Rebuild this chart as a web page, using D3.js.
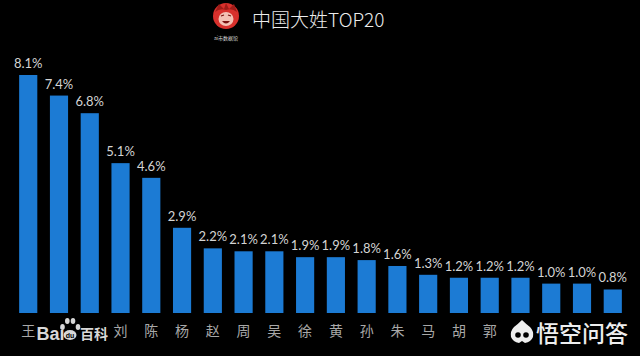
<!DOCTYPE html>
<html><head><meta charset="utf-8">
<script src="https://cdn.jsdelivr.net/npm/d3@7"></script>
<style>html,body{margin:0;padding:0;background:#000;}svg{display:block;}</style>
</head><body>
<script>
const surnames = ["王","李","张","刘","陈","杨","赵","周","吴","徐","黄","孙","朱","马","胡","郭","何","高","林","罗"];
const shares = [8.1,7.4,6.8,5.1,4.6,2.9,2.2,2.1,2.1,1.9,1.9,1.8,1.6,1.3,1.2,1.2,1.2,1.0,1.0,0.8];
const valueLabels = ["8.1%","7.4%","6.8%","5.1%","4.6%","2.9%","2.2%","2.1%","2.1%","1.9%","1.9%","1.8%","1.6%","1.3%","1.2%","1.2%","1.2%","1.0%","1.0%","0.8%"];
// surnames whose axis label is hidden under a watermark in the original picture
const hiddenLabels = ["李","张","何","高","林","罗"];
const titleText = "中国大姓TOP20";

const W = 640, H = 356;
const svg = d3.select("body").append("svg").attr("width", W).attr("height", H);
svg.append("rect").attr("width", W).attr("height", H).attr("fill", "#000");

const x = d3.scaleBand().domain(surnames).range([13, 628]).paddingInner(0.41).paddingOuter(0.2);
const y = d3.scaleLinear().domain([0, 8.1]).range([313, 75]);

const data = surnames.map((s, i) => ({s, v: shares[i], l: valueLabels[i]}));

svg.append("g").selectAll("rect").data(data).join("rect")
  .attr("x", d => x(d.s)).attr("width", x.bandwidth())
  .attr("y", d => y(d.v)).attr("height", d => y(0) - y(d.v))
  .attr("fill", "#1c7bd4");

svg.append("g").selectAll("text").data(data).join("text")
  .attr("x", d => x(d.s) + x.bandwidth() / 2)
  .attr("y", d => y(d.v) - 7)
  .attr("text-anchor", "middle")
  .attr("font-family", "Lato, 'Open Sans', sans-serif")
  .attr("font-size", 13)
  .attr("fill", "#d4d4d4")
  .text(d => d.l);

// category axis (no line)
const xAxis = d3.axisBottom(x).tickSize(0).tickPadding(0)
  .tickFormat(s => hiddenLabels.includes(s) ? "" : s);
const ax = svg.append("g").attr("transform", "translate(0,326)").call(xAxis);
ax.select(".domain").remove();
ax.selectAll("text")
  .attr("font-family", "'Noto Sans CJK SC', sans-serif")
  .attr("font-size", 14)
  .attr("fill", "#a8a8a8");

// title with logo
const logo = svg.append("g").attr("transform", "translate(226,16)");
logo.append("circle").attr("r", 13).attr("fill", "#d8302c");
logo.append("path").attr("d", "M-11,-4 L-7,-12 L-2,-7 L0,-13 L3,-7 L8,-12 L11,-4 Q6,-8 0,-6 Q-6,-8 -11,-4Z").attr("fill", "#9e1c18");
logo.append("ellipse").attr("cx", 0).attr("cy", 3).attr("rx", 7.5).attr("ry", 7).attr("fill", "#f3c1b4");
logo.append("path").attr("d", "M-4,5 Q0,10 4,5Z").attr("fill", "#7a1210");
logo.append("path").attr("d", "M-5,0 l3,-1 M2,-1 l3,1").attr("stroke", "#7a1210").attr("stroke-width", 1.2);
svg.append("text").attr("x", 226).attr("y", 40).attr("text-anchor", "middle")
  .attr("font-family", "'Noto Sans CJK SC', sans-serif").attr("font-size", 5).attr("fill", "#ddd")
  .text("ai市数据馆");
svg.append("text").attr("x", 252).attr("y", 27)
  .attr("font-family", "'Noto Sans CJK SC', sans-serif").attr("font-weight", 300)
  .attr("font-size", 19).attr("fill", "#ececec")
  .text(titleText);

// Baidu watermark
const bw = svg.append("g");
bw.append("rect").attr("x", 36).attr("y", 318).attr("width", 74).attr("height", 26).attr("fill", "#000");
bw.append("text").attr("x", 36.5).attr("y", 340)
  .attr("font-family", "'Liberation Sans', Arial, sans-serif").attr("font-weight", 700)
  .attr("font-size", 18).attr("fill", "#d8d8d8").text("Bai");
const paw = bw.append("g").attr("transform", "translate(70,330)").attr("fill", "#d8d8d8");
paw.append("ellipse").attr("cx", 0).attr("cy", 5).attr("rx", 6.5).attr("ry", 5);
paw.append("ellipse").attr("cx", -7.5).attr("cy", -3).attr("rx", 2.3).attr("ry", 2.9);
paw.append("ellipse").attr("cx", -2.7).attr("cy", -9).attr("rx", 2.3).attr("ry", 2.9);
paw.append("ellipse").attr("cx", 3).attr("cy", -9).attr("rx", 2.3).attr("ry", 2.9);
paw.append("ellipse").attr("cx", 8).attr("cy", -3).attr("rx", 2.3).attr("ry", 2.9);
paw.append("text").attr("x", 0).attr("y", 8).attr("text-anchor", "middle")
  .attr("font-family", "'Liberation Sans', sans-serif").attr("font-weight", 700)
  .attr("font-size", 7).attr("fill", "#000").text("du");
bw.append("text").attr("x", 80).attr("y", 339)
  .attr("font-family", "'Noto Sans CJK SC', sans-serif").attr("font-weight", 700)
  .attr("font-size", 14).attr("fill", "#d8d8d8").text("百科");

// Wukong watermark
const ww = svg.append("g");
ww.append("rect").attr("x", 505).attr("y", 316).attr("width", 130).attr("height", 32).attr("fill", "#000");
const ic = ww.append("g").attr("transform", "translate(522,333)").attr("fill", "#eeeeee");
ic.append("path").attr("d", "M0,-13 Q4,-9 8,-6 Q12,-2 11,4 Q9,9 3,10 L0,8 L-3,10 Q-9,9 -11,4 Q-12,-2 -8,-6 Q-4,-9 0,-13Z");
ic.append("circle").attr("cx", -4).attr("cy", 2).attr("r", 2.8).attr("fill", "#000");
ic.append("circle").attr("cx", 4).attr("cy", 2).attr("r", 2.8).attr("fill", "#000");
ww.append("text").attr("x", 536).attr("y", 342)
  .attr("font-family", "'Noto Sans CJK SC', sans-serif").attr("font-weight", 500)
  .attr("font-size", 23).attr("fill", "#eeeeee").text("悟空问答");
</script>
</body></html>
